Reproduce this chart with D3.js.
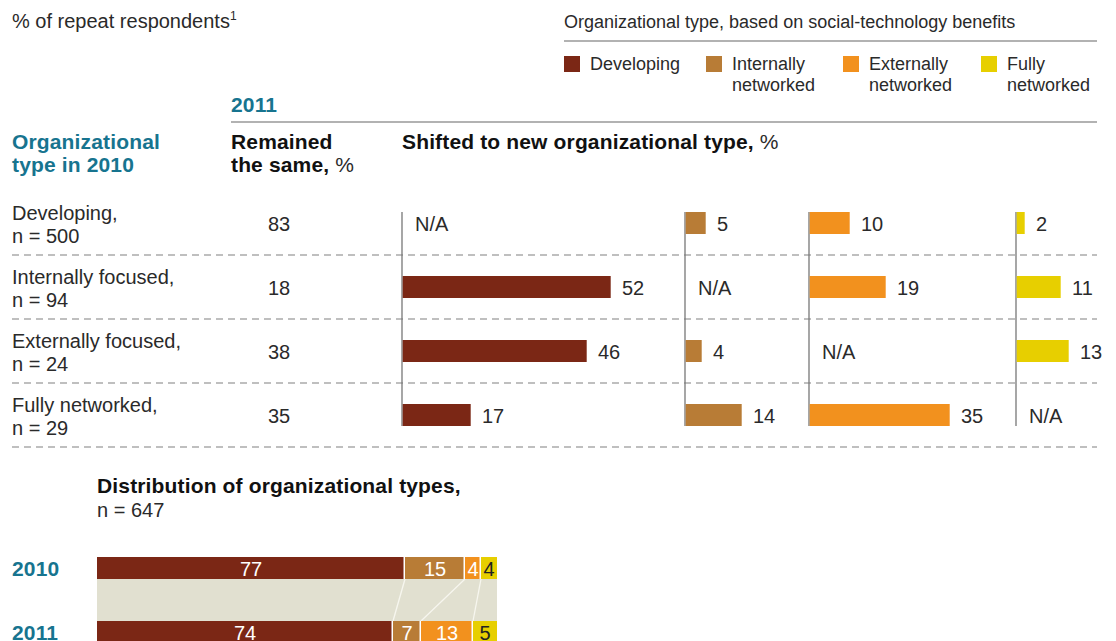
<!DOCTYPE html>
<html>
<head>
<meta charset="utf-8">
<script src="https://cdn.jsdelivr.net/npm/d3@7"></script>
<style>
  body { margin: 0; background: #fff; }
  svg { display: block; font-family: "Liberation Sans", Arial, sans-serif; }
</style>
</head>
<body>
<svg id="chart" width="1116" height="641"></svg>
<script>
var typeNames = ["Developing", "Internally networked", "Externally networked", "Fully networked"];
var typeColors = ["#7b2715", "#b87c36", "#f2911e", "#e7cf00"];
var rowNames = ["Developing,", "Internally focused,", "Externally focused,", "Fully networked,"];
var rowN = [500, 94, 24, 29];
var remained = [83, 18, 38, 35];
// shifted to type (columns), one value per 2010 type (rows); null = N/A
var toDeveloping = [null, 52, 46, 17];
var toInternally = [5, null, 4, 14];
var toExternally = [10, 19, null, 35];
var toFully = [2, 11, 13, null];
var distYears = ["2010", "2011"];
var dist2010 = [77, 15, 4, 4];
var dist2011 = [74, 7, 13, 5];

var teal = "#17748f", ink = "#2a2a2a";
var svg = d3.select("#chart");

var attrAll = function(sel, attrs) {
  var k;
  for (k in attrs) sel.attr(k, attrs[k]);
  return sel;
};

var bold = function(px, py, col) {
  return attrAll(svg.append("text"), {x: px, y: py, "font-size": 21, "font-weight": "bold",
    "letter-spacing": 0.15, fill: col || "#111"});
};

// 4px per percentage point, both parts of the chart
var x = d3.scaleLinear().domain([0, 100]).range([0, 400]);
var y = d3.scaleBand().domain(rowNames).range([191, 447]);
var barH = 22;
var colX = [402, 685, 809, 1016];
var shifted = [toDeveloping, toInternally, toExternally, toFully];

// header
var t = attrAll(svg.append("text"), {x: 12, y: 28, "font-size": 20, fill: ink});
t.append("tspan").text("% of repeat respondents");
t.append("tspan").attr("font-size", 12).attr("dy", -8).text("1");

attrAll(svg.append("text"), {x: 564, y: 28, "font-size": 18, fill: ink})
  .text("Organizational type, based on social-technology benefits");
attrAll(svg.append("line"), {x1: 564, x2: 1097, y1: 41, y2: 41, stroke: "#999", "stroke-width": 1.3});

var legendX = [564, 706, 843, 981];
typeNames.forEach(function(name, i) {
  attrAll(svg.append("rect"), {x: legendX[i], y: 56, width: 16, height: 16, fill: typeColors[i]});
  var lines = name.split(" ");
  lines.forEach(function(l, j) {
    attrAll(svg.append("text"), {x: legendX[i] + 26, y: 70 + j * 21, "font-size": 18, fill: ink}).text(l);
  });
});

bold(231, 112, teal).text("2011");
attrAll(svg.append("line"), {x1: 231, x2: 1097, y1: 122, y2: 122, stroke: "#999", "stroke-width": 1.3});

bold(12, 149, teal).text("Organizational");
bold(12, 172, teal).text("type in 2010");
bold(231, 149).text("Remained");
t = bold(231, 172);
t.append("tspan").text("the same,");
t.append("tspan").attr("font-weight", "normal").attr("fill", ink).text(" %");
t = bold(402, 149);
t.append("tspan").text("Shifted to new organizational type,");
t.append("tspan").attr("font-weight", "normal").attr("fill", ink).text(" %");

// rows
rowNames.forEach(function(name, i) {
  var cy = y(name) + y.bandwidth() / 2;
  attrAll(svg.append("text"), {x: 12, y: cy - 3, "font-size": 20, fill: ink}).text(name);
  attrAll(svg.append("text"), {x: 12, y: cy + 20, "font-size": 20, fill: ink}).text("n = " + rowN[i]);
  attrAll(svg.append("text"), {x: 279, y: cy + 7.5, "font-size": 20, fill: ink, "text-anchor": "middle"}).text(remained[i]);
  attrAll(svg.append("line"), {x1: 12, x2: 1097, y1: y(name) + y.bandwidth(), y2: y(name) + y.bandwidth(),
    stroke: "#aaa", "stroke-width": 1.3, "stroke-dasharray": "7,5"});
});

shifted.forEach(function(vals, c) {
  var g = svg.append("g").attr("transform", "translate(" + colX[c] + ",0)");
  var top = y(rowNames[0]) + (y.bandwidth() - barH) / 2;
  var bottom = y(rowNames[rowNames.length - 1]) + (y.bandwidth() + barH) / 2;
  attrAll(g.append("line"), {x1: 0, x2: 0, y1: top, y2: bottom, stroke: "#777", "stroke-width": 1.3});
  vals.forEach(function(v, i) {
    var cy = y(rowNames[i]) + y.bandwidth() / 2;
    if (v === null) {
      attrAll(g.append("text"), {x: 13, y: cy + 7.5, "font-size": 20, fill: ink}).text("N/A");
      return;
    }
    attrAll(g.append("rect"), {x: 0.7, y: cy - barH / 2, width: x(v), height: barH, fill: typeColors[c]});
    attrAll(g.append("text"), {x: x(v) + 12, y: cy + 7.5, "font-size": 20, fill: ink}).text(v);
  });
});

// distribution
bold(97, 493).text("Distribution of organizational types,");
attrAll(svg.append("text"), {x: 97, y: 517, "font-size": 20, fill: ink}).text("n = 647");

var dx0 = 97;
var dy = d3.scaleOrdinal().domain(distYears).range([557, 621]);
var distH = 22;
var dists = [dist2010, dist2011];
var cums = dists.map(function(d) { return d3.cumsum(d); });

attrAll(svg.append("rect"), {x: dx0 + x(0), y: dy("2010") + distH, width: x(100),
  height: dy("2011") - dy("2010") - distH, fill: "#e1e0d0"});

[1, 2, 3].forEach(function(k) {
  attrAll(svg.append("line"), {x1: dx0 + x(cums[0][k - 1]), y1: dy("2010") + distH,
    x2: dx0 + x(cums[1][k - 1]), y2: dy("2011"), stroke: "#f7f6ef", "stroke-width": 1.3});
});

distYears.forEach(function(year, r) {
  var vals = dists[r], cum = cums[r], y0 = dy(year);
  bold(12, y0 + distH / 2 + 8, teal).text(year);
  vals.forEach(function(v, i) {
    var start = i ? cum[i - 1] : 0;
    var end = i === vals.length - 1 ? Math.max(cum[i], 100) : cum[i];
    var x0 = dx0 + x(start), w = x(end) - x(start);
    attrAll(svg.append("rect"), {x: x0, y: y0, width: i === vals.length - 1 ? w : w - 1.5, height: distH, fill: typeColors[i]});
    attrAll(svg.append("text"), {x: x0 + w / 2, y: y0 + distH / 2 + 7.5, "font-size": 20, "text-anchor": "middle",
      fill: i === 3 ? "#222" : "#fff"}).text(v);
  });
});
</script>
</body>
</html>
